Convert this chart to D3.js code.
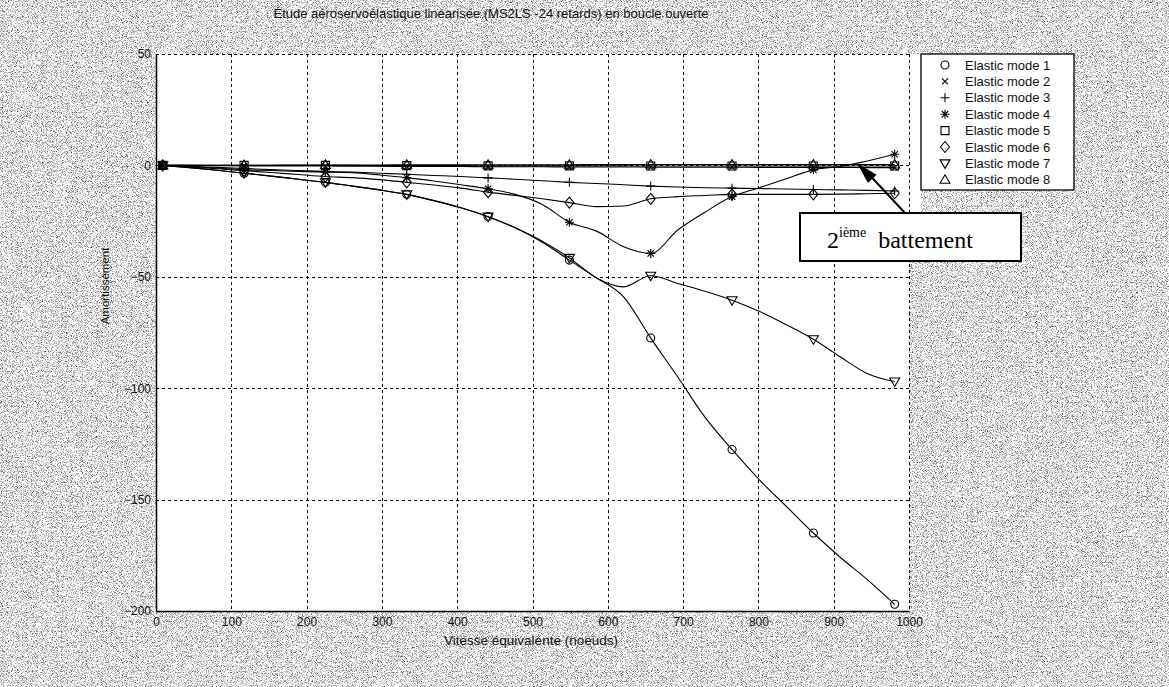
<!DOCTYPE html>
<html>
<head>
<meta charset="utf-8">
<script src="https://cdn.jsdelivr.net/npm/d3@7"></script>
<style>
  html, body { margin: 0; padding: 0; background: #fff; }
  svg { display: block; }
</style>
</head>
<body>
<svg id="chart" width="1169" height="687"></svg>
<script>
// Speeds (knots) at which the damping of each elastic mode was computed
const speeds = [9, 45, 81, 117, 153, 189, 225, 261, 297, 333, 369, 405, 441, 477,
                513, 549, 585, 621, 657, 693, 729, 765, 801, 837, 873, 909, 945, 981];

// Damping per elastic mode
const mode1 = [0, -1, -2.2, -3.5, -4.8, -6.2, -7.6, -9.3, -11, -13, -15.8, -19, -23, -28,
               -34.5, -42.5, -50.5, -59, -77.5, -95, -113, -127.5, -141, -153, -165, -176, -186, -197];
const mode2 = [0, 0, -0.1, -0.2, -0.2, -0.3, -0.3, -0.4, -0.4, -0.5, -0.5, -0.5, -0.6, -0.6,
               -0.6, -0.7, -0.7, -0.7, -0.8, -0.8, -0.8, -0.8, -0.9, -0.9, -0.9, -0.9, -1, -1];
const mode3 = [0, -0.4, -0.9, -1.4, -1.9, -2.3, -2.7, -3, -3.5, -4, -4.5, -5, -5.6, -6.2,
               -6.9, -7.6, -8.1, -8.7, -9.3, -9.7, -10, -10.2, -10.4, -10.6, -10.8, -11, -11.2, -11.5];
const mode4 = [0, -0.5, -1.2, -2, -2.3, -2.7, -3, -3.3, -4.3, -5.5, -7, -8.7, -10.5, -13,
               -17.5, -25.5, -29.5, -36.5, -39.5, -29, -21, -14, -10, -6, -2, -0.4, 2, 5];
const mode5 = [0, 0, 0, 0, 0, 0, 0, 0, -0.1, -0.1, -0.1, -0.1, -0.2, -0.2,
               -0.2, -0.2, -0.2, -0.2, -0.3, -0.3, -0.3, -0.3, -0.3, -0.3, -0.3, -0.3, -0.3, -0.3];
const mode6 = [0, -0.7, -1.5, -2.4, -3.2, -4.1, -5, -5.5, -6.4, -7.6, -8.8, -10.2, -12, -13.5,
               -15, -16.7, -18.5, -18.2, -15, -14, -13.5, -13, -13, -13, -13, -12.9, -12.7, -12.5];
const mode7 = [0, -1, -2.2, -3.5, -4.8, -6.2, -7.6, -9.3, -11, -13, -15.8, -19, -23, -28,
               -34, -41.5, -50.5, -54.5, -49.5, -53, -56.5, -60.5, -65.5, -71.5, -78, -86, -93.5, -97];
const mode8 = [0, 0, 0.1, 0.1, 0.1, 0.2, 0.2, 0.2, 0.2, 0.3, 0.3, 0.3, 0.3, 0.3,
               0.3, 0.3, 0.4, 0.4, 0.4, 0.4, 0.4, 0.4, 0.4, 0.4, 0.4, 0.4, 0.4, 0.4];

const modeNames = ["Elastic mode 1", "Elastic mode 2", "Elastic mode 3", "Elastic mode 4",
                   "Elastic mode 5", "Elastic mode 6", "Elastic mode 7", "Elastic mode 8"];
const modeSymbols = ["circle", "x", "plus", "star", "square", "diamond", "tridown", "triup"];

const xTicks = [0, 100, 200, 300, 400, 500, 600, 700, 800, 900, 1000];
const yTicks = [50, 0, -50, -100, -150, -200];

const titleText = "Étude aéroservoélastique linéarisée (MS2LS -24 retards) en boucle ouverte";
const xLabel = "Vitesse équivalente (noeuds)";
const yLabel = "Amortissement";

const series = [mode1, mode2, mode3, mode4, mode5, mode6, mode7, mode8];

// ---- layout ----
const W = 1169, H = 687;
const plot = { left: 156, right: 909, top: 54, bottom: 611 };
const markerStep = 3; // a marker on every third computed speed

const svg = d3.select("#chart");
const defs = svg.append("defs");

// speckled grey figure background
const grain = defs.append("filter").attr("id", "grain")
  .attr("x", 0).attr("y", 0).attr("width", "100%").attr("height", "100%")
  .attr("color-interpolation-filters", "sRGB");
grain.append("feTurbulence").attr("type", "fractalNoise")
  .attr("baseFrequency", 1.2).attr("numOctaves", 1).attr("seed", 7).attr("result", "n");
grain.append("feColorMatrix").attr("in", "n").attr("type", "matrix")
  .attr("values", "0 0 0 0 0  0 0 0 0 0  0 0 0 0 0  2.2 0 0 0 -1.02");

svg.append("rect").attr("width", W).attr("height", H).attr("fill", "#fff");
svg.append("rect").attr("width", W).attr("height", H).attr("fill", "#fff").attr("filter", "url(#grain)");

const x = d3.scaleLinear().domain([0, 1000]).range([plot.left, plot.right]);
const y = d3.scaleLinear().domain([-200, 50]).range([plot.bottom, plot.top]);

// plot area
svg.append("rect")
  .attr("x", plot.left).attr("y", plot.top)
  .attr("width", plot.right - plot.left).attr("height", plot.bottom - plot.top)
  .attr("fill", "#fff");
// white strip between axes and legend
svg.append("rect").attr("x", plot.right).attr("y", plot.top)
  .attr("width", 12).attr("height", 159).attr("fill", "#fff");

// dotted grid (also forms top and right border)
const grid = svg.append("g").attr("stroke", "#000").attr("stroke-width", 1)
  .attr("stroke-dasharray", "3,3").attr("fill", "none");
grid.selectAll("line.v").data(xTicks.filter(d => d !== 0)).join("line")
  .attr("x1", d => Math.round(x(d)) + 0.5).attr("x2", d => Math.round(x(d)) + 0.5)
  .attr("y1", plot.top).attr("y2", plot.bottom);
grid.selectAll("line.h").data(yTicks.filter(d => d !== -200)).join("line")
  .attr("y1", d => Math.round(y(d)) + 0.5).attr("y2", d => Math.round(y(d)) + 0.5)
  .attr("x1", plot.left).attr("x2", plot.right);

// axes
const axisFont = "'Liberation Sans', Arial, sans-serif";
const gx = svg.append("g").attr("transform", `translate(0,${plot.bottom})`)
  .call(d3.axisBottom(x).tickValues(xTicks).tickFormat(d3.format("d")).tickSize(0).tickPadding(6));
const gy = svg.append("g").attr("transform", `translate(${plot.left},0)`)
  .call(d3.axisLeft(y).tickValues(yTicks).tickFormat(d3.format("d")).tickSize(0).tickPadding(5));
[gx, gy].forEach(g => {
  g.select(".domain").attr("stroke", "#000").attr("stroke-width", 1.5);
  g.selectAll("text").attr("font-family", axisFont).attr("font-size", 12).attr("fill", "#111");
});

// curves
const line = d3.line()
  .x((d, i) => x(speeds[i]))
  .y(d => y(d))
  .curve(d3.curveMonotoneX);

const curves = svg.append("g").attr("fill", "none").attr("stroke", "#000").attr("stroke-width", 1.1);
series.forEach(s => curves.append("path").attr("d", line(s)));

// marker shapes
function symbolPath(kind) {
  switch (kind) {
    case "circle":  return "M4,0A4,4 0 1,1 -4,0A4,4 0 1,1 4,0Z";
    case "x":       return "M-3,-3L3,3M-3,3L3,-3";
    case "plus":    return "M-4.5,0L4.5,0M0,-4.5L0,4.5";
    case "star":    return "M-4.5,0L4.5,0M0,-4.5L0,4.5M-3.2,-3.2L3.2,3.2M-3.2,3.2L3.2,-3.2";
    case "square":  return "M-4,-4L4,-4L4,4L-4,4Z";
    case "diamond": return "M0,-5.5L4.5,0L0,5.5L-4.5,0Z";
    case "tridown": return "M-5,-3.5L5,-3.5L0,5Z";
    case "triup":   return "M-5,3.5L5,3.5L0,-5Z";
  }
}

const marks = svg.append("g").attr("fill", "none").attr("stroke", "#000").attr("stroke-width", 1.1);
series.forEach((s, k) => {
  const pts = s.map((v, i) => [speeds[i], v]).filter((d, i) => i % markerStep === 0);
  marks.selectAll(null).data(pts).join("path")
    .attr("transform", d => `translate(${x(d[0])},${y(d[1])})`)
    .attr("d", symbolPath(modeSymbols[k]));
});

// title and axis labels
svg.append("text").attr("x", 491).attr("y", 18).attr("text-anchor", "middle")
  .attr("font-family", axisFont).attr("font-size", 13).attr("fill", "#111").text(titleText);
svg.append("text").attr("x", 531).attr("y", 645).attr("text-anchor", "middle")
  .attr("font-family", axisFont).attr("font-size", 13.5).attr("fill", "#111").text(xLabel);
svg.append("text").attr("transform", "translate(109,286) rotate(-90)").attr("text-anchor", "middle")
  .attr("font-family", axisFont).attr("font-size", 11.5).attr("fill", "#111").text(yLabel);

// legend
const lg = svg.append("g").attr("transform", "translate(921,54)");
lg.append("rect").attr("width", 153).attr("height", 136)
  .attr("fill", "#fff").attr("stroke", "#000").attr("stroke-width", 1.3);
modeNames.forEach((name, i) => {
  const cy = 11 + i * 16.4;
  lg.append("path").attr("transform", `translate(24,${cy})`).attr("d", symbolPath(modeSymbols[i]))
    .attr("fill", "none").attr("stroke", "#000").attr("stroke-width", 1.1);
  lg.append("text").attr("x", 44).attr("y", cy + 4.5)
    .attr("font-family", axisFont).attr("font-size", 13).attr("fill", "#111").text(name);
});

// annotation: second flutter crossing
const ann = svg.append("g");
ann.append("line").attr("x1", 905).attr("y1", 213).attr("x2", 863).attr("y2", 168)
  .attr("stroke", "#000").attr("stroke-width", 2);
// filled arrowhead pointing at the crossing
(function () {
  const tip = [857, 163], tail = [905, 213];
  const ang = Math.atan2(tail[1] - tip[1], tail[0] - tip[0]);
  const len = 22, half = 6;
  const bx = tip[0] + len * Math.cos(ang), by = tip[1] + len * Math.sin(ang);
  const px = -Math.sin(ang) * half, py = Math.cos(ang) * half;
  ann.append("path")
    .attr("d", `M${tip[0]},${tip[1]}L${bx + px},${by + py}L${bx - px},${by - py}Z`)
    .attr("fill", "#000");
})();
ann.append("rect").attr("x", 800).attr("y", 213).attr("width", 221).attr("height", 48)
  .attr("fill", "#fff").attr("stroke", "#000").attr("stroke-width", 2);
const annText = ann.append("text").attr("x", 827).attr("y", 248)
  .attr("font-family", "'Liberation Serif', 'Times New Roman', serif").attr("font-size", 24).attr("fill", "#000");
annText.append("tspan").text("2");
annText.append("tspan").attr("font-size", 14).attr("dy", -11).text("ième");
annText.append("tspan").attr("dy", 11).attr("dx", 12).text("battement");
</script>
</body>
</html>
